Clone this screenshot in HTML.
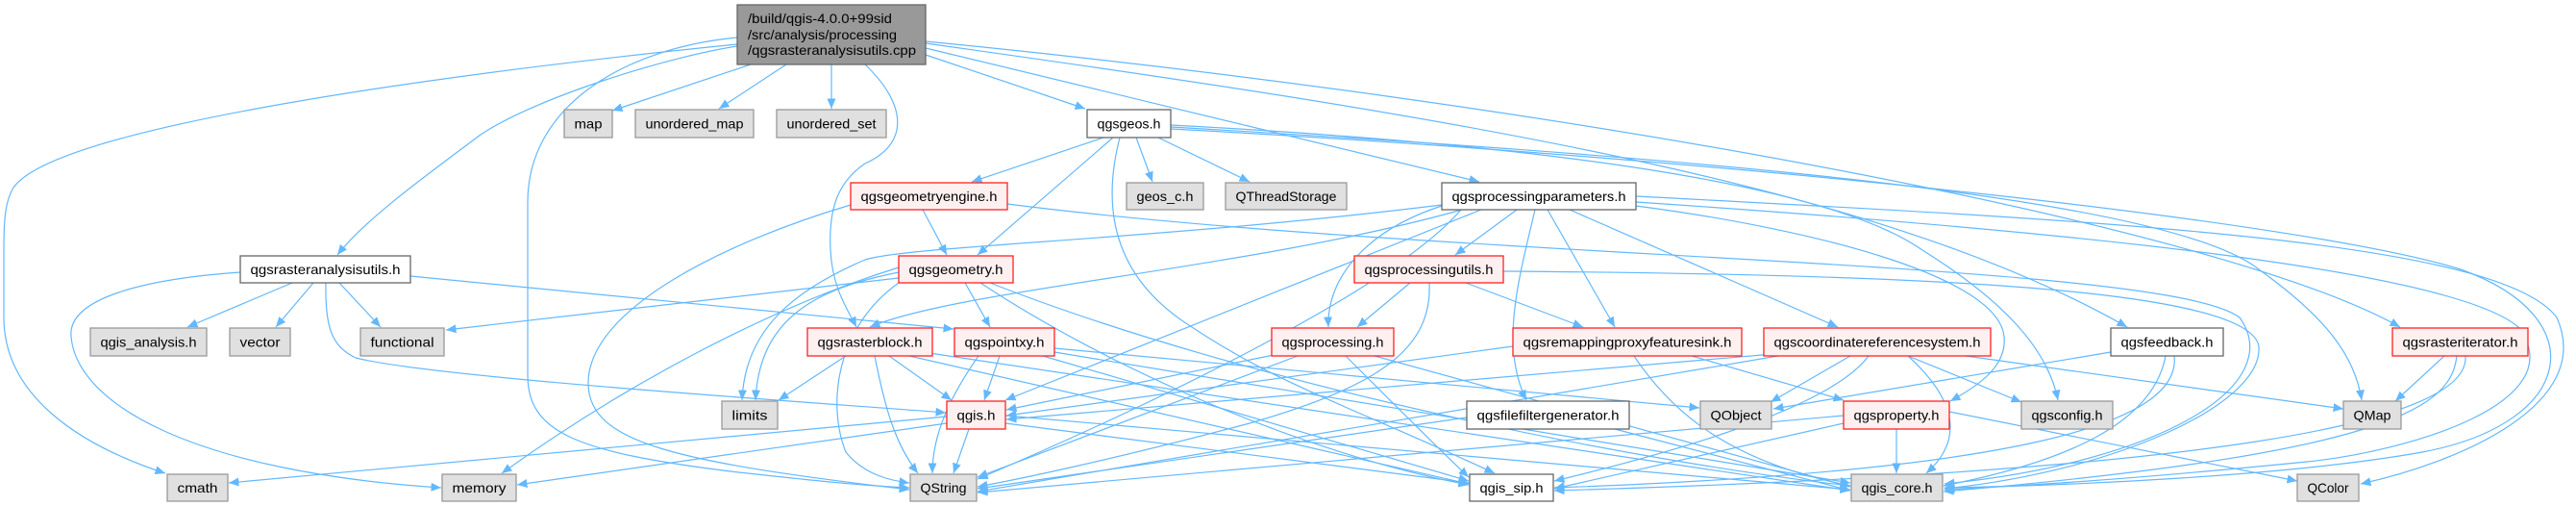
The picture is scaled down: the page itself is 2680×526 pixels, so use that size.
<!DOCTYPE html>
<html><head><meta charset="utf-8"><style>
html,body{margin:0;padding:0;background:#fff;}
svg{display:block;}
text{font-family:"Liberation Sans",sans-serif;font-size:14px;fill:#000;}
.e{fill:none;stroke:#63b8ff;stroke-width:1.2;marker-end:url(#a);}
.g{fill:#e0e0e0;stroke:#999;stroke-width:1.3;}
.w{fill:#fff;stroke:#666;stroke-width:1.3;}
.r{fill:#fff0f0;stroke:#f22;stroke-width:1.3;}
.m{fill:#999;stroke:#666;stroke-width:1.3;}
</style></head><body>
<svg width="2680" height="526" viewBox="0 0 2680 526" xmlns="http://www.w3.org/2000/svg">
<defs><marker id="a" markerWidth="12" markerHeight="10" refX="10.5" refY="4.5" orient="auto" markerUnits="userSpaceOnUse"><path d="M0,0 L10.5,4.5 L0,9 z" fill="#63b8ff"/></marker></defs>
<g>
<path class="e" d="M781,67 L637,115"/>
<path class="e" d="M818,67 L748,113"/>
<path class="e" d="M865,67 L865,113"/>
<path class="e" d="M963,57 L1129,113"/>
<path class="e" d="M767,48 C700,58 560,100 500,140 C440,185 380,228 351,265"/>
<path class="e" d="M767,46 C480,75 60,130 14,195 C5,210 4,230 4,260 L4,330 C4,410 80,462 172,492"/>
<path class="e" d="M767,39 C650,50 549,110 549,210 L549,390 C549,450 600,470 760,490 C850,500 900,505 946,507"/>
<path class="e" d="M900,67 C945,110 945,150 900,170 C870,190 862,220 864,260 C866,300 882,322 891,340"/>
<path class="e" d="M963,50 L1539,189"/>
<path class="e" d="M963,45 C1500,120 1950,190 2213,340"/>
<path class="e" d="M963,43 C1600,105 2300,230 2497,340"/>

<path class="e" d="M304,294 L195,340"/>
<path class="e" d="M326,294 L287,340"/>
<path class="e" d="M353,294 L396,340"/>
<path class="e" d="M250,283 C150,290 70,310 74,350 C80,420 200,490 459,507"/>
<path class="e" d="M339,294 C338,340 345,360 370,372 C450,392 800,415 984,429"/>
<path class="e" d="M427,287 L992,342"/>

<path class="e" d="M1148,143 L1011,189"/>
<path class="e" d="M1158,143 L1017,265"/>
<path class="e" d="M1182,143 L1199,189"/>
<path class="e" d="M1205,143 L1300,189"/>
<path class="e" d="M1165,143 C1145,220 1160,290 1240,340 C1330,400 1400,420 1555,492"/>
<path class="e" d="M1218,130 C1600,150 1900,190 2000,260 C2080,310 2130,360 2141,416"/>
<path class="e" d="M1218,132 C1700,160 2250,200 2350,280 C2420,330 2450,370 2457,416"/>
<path class="e" d="M1218,134 C1800,165 2400,230 2560,280 C2700,330 2680,440 2520,470 C2380,495 2150,505 2023,507"/>

<path class="e" d="M960,218 L985,265"/>
<path class="e" d="M885,213 C760,250 610,320 612,400 C614,460 700,480 946,509"/>
<path class="e" d="M1048,212 C1500,270 2250,270 2330,330 C2380,400 2250,480 2023,503"/>

<path class="e" d="M1578,218 L1514,265"/>
<path class="e" d="M1500,214 C1420,240 1380,290 1382,340"/>
<path class="e" d="M1610,218 L1680,340"/>
<path class="e" d="M1597,218 C1580,290 1560,360 1588,416"/>
<path class="e" d="M1633,218 L1912,340"/>
<path class="e" d="M1541,218 L1046,416"/>
<path class="e" d="M1521,218 C1300,280 1000,300 905,340"/>
<path class="e" d="M1500,213 C1200,250 950,255 900,270 C830,300 775,340 772,416"/>
<path class="e" d="M1702,204 C2200,230 2600,250 2660,330 C2700,420 2560,480 2456,503"/>
<path class="e" d="M1702,210 C2150,240 2550,280 2620,340 C2680,420 2500,470 2400,480 C2200,500 2100,505 2023,509"/>
<path class="e" d="M1702,214 C1900,240 2080,290 2085,350 C2088,380 2060,400 2029,417"/>
<path class="e" d="M1520,218 C1450,300 1200,420 1017,498"/>

<path class="e" d="M1467,294 L1412,340"/>
<path class="e" d="M1525,294 L1647,340"/>
<path class="e" d="M1487,294 C1490,360 1440,400 1300,440 C1150,480 1050,500 1017,506"/>
<path class="e" d="M1564,282 C2000,285 2340,300 2350,360 C2355,420 2200,490 2023,508"/>

<path class="e" d="M1004,294 L1030,340"/>
<path class="e" d="M935,289 L464,343"/>
<path class="e" d="M935,283 C850,300 790,330 786,416"/>
<path class="e" d="M935,278 C800,320 650,400 522,492"/>
<path class="e" d="M935,294 C870,340 860,420 880,470 C900,495 930,500 946,502"/>
<path class="e" d="M1020,294 C1150,380 1350,470 1528,504"/>
<path class="e" d="M1030,294 C1300,400 1700,480 1925,505"/>

<path class="e" d="M880,370 L810,416"/>
<path class="e" d="M925,370 L990,416"/>
<path class="e" d="M910,370 C920,420 930,460 955,492"/>
<path class="e" d="M946,370 L1528,503"/>
<path class="e" d="M960,366 L1925,510"/>

<path class="e" d="M1040,370 L1024,416"/>
<path class="e" d="M1018,370 C990,410 970,450 970,492"/>
<path class="e" d="M1097,362 L1768,424"/>
<path class="e" d="M1097,366 L1925,502"/>
<path class="e" d="M1085,370 L1528,500"/>

<path class="e" d="M985,433 L238,502"/>
<path class="e" d="M985,440 L538,504"/>
<path class="e" d="M1008,446 L992,492"/>
<path class="e" d="M1046,440 L1528,502"/>
<path class="e" d="M1046,432 L1925,509"/>

<path class="e" d="M1350,370 L1017,496"/>
<path class="e" d="M1330,368 L1047,426"/>
<path class="e" d="M1400,370 C1450,420 1500,470 1528,496"/>
<path class="e" d="M1430,370 L1925,506"/>

<path class="e" d="M1574,360 L1047,432"/>
<path class="e" d="M1760,370 L1918,416"/>
<path class="e" d="M1700,370 C1740,430 1800,480 1925,505"/>

<path class="e" d="M1925,370 L1842,418"/>
<path class="e" d="M1985,370 L2103,418"/>
<path class="e" d="M2045,370 L2438,425"/>
<path class="e" d="M1985,370 C2040,420 2040,460 2004,492"/>
<path class="e" d="M1845,368 L1047,436"/>
<path class="e" d="M1850,370 L1017,511"/>
<path class="e" d="M1944,370 C1900,430 1700,480 1617,500"/>

<path class="e" d="M2196,366 L1845,425"/>
<path class="e" d="M2253,370 C2240,440 2150,480 2022,505"/>
<path class="e" d="M2262,370 C2270,440 2100,490 1617,507"/>

<path class="e" d="M2543,370 L2492,417"/>
<path class="e" d="M2556,370 C2550,420 2500,470 2022,511"/>
<path class="e" d="M2565,370 C2570,440 2300,490 1617,510"/>

<path class="e" d="M1973,446 L1973,492"/>
<path class="e" d="M2028,428 L2390,500"/>
<path class="e" d="M1918,432 L1017,512"/>
<path class="e" d="M1918,440 L1617,508"/>

<path class="e" d="M1526,434 L1017,508"/>
<path class="e" d="M1680,446 L1925,510"/>
</g>

<g>
<rect class="m" x="767" y="5" width="196" height="62"/>
<text x="778" y="24" textLength="150" lengthAdjust="spacingAndGlyphs">/build/qgis-4.0.0+99sid</text>
<text x="778" y="41" textLength="155" lengthAdjust="spacingAndGlyphs">/src/analysis/processing</text>
<text x="778" y="57" textLength="175" lengthAdjust="spacingAndGlyphs">/qgsrasteranalysisutils.cpp</text>

<rect class="g" x="587" y="114" width="50" height="29"/><text x="612" y="133.5" text-anchor="middle" textLength="29" lengthAdjust="spacingAndGlyphs">map</text>
<rect class="g" x="661" y="114" width="123" height="29"/><text x="722.5" y="133.5" text-anchor="middle" textLength="102" lengthAdjust="spacingAndGlyphs">unordered_map</text>
<rect class="g" x="808" y="114" width="114" height="29"/><text x="865" y="133.5" text-anchor="middle" textLength="93" lengthAdjust="spacingAndGlyphs">unordered_set</text>
<rect class="w" x="1131" y="114" width="87" height="29"/><text x="1174.5" y="133.5" text-anchor="middle" textLength="66" lengthAdjust="spacingAndGlyphs">qgsgeos.h</text>

<rect class="r" x="885" y="190" width="163" height="28"/><text x="966.5" y="209" text-anchor="middle" textLength="142" lengthAdjust="spacingAndGlyphs">qgsgeometryengine.h</text>
<rect class="g" x="1172" y="190" width="80" height="28"/><text x="1212" y="209" text-anchor="middle" textLength="59" lengthAdjust="spacingAndGlyphs">geos_c.h</text>
<rect class="g" x="1275" y="190" width="126" height="28"/><text x="1338" y="209" text-anchor="middle" textLength="105" lengthAdjust="spacingAndGlyphs">QThreadStorage</text>
<rect class="w" x="1500" y="190" width="202" height="28"/><text x="1601" y="209" text-anchor="middle" textLength="181" lengthAdjust="spacingAndGlyphs">qgsprocessingparameters.h</text>

<rect class="w" x="250" y="266" width="177" height="28"/><text x="338.5" y="285" text-anchor="middle" textLength="156" lengthAdjust="spacingAndGlyphs">qgsrasteranalysisutils.h</text>
<rect class="r" x="935" y="266" width="119" height="28"/><text x="994.5" y="285" text-anchor="middle" textLength="98" lengthAdjust="spacingAndGlyphs">qgsgeometry.h</text>
<rect class="r" x="1409" y="266" width="155" height="28"/><text x="1486.5" y="285" text-anchor="middle" textLength="134" lengthAdjust="spacingAndGlyphs">qgsprocessingutils.h</text>

<rect class="g" x="94" y="341" width="121" height="29"/><text x="154.5" y="360.5" text-anchor="middle" textLength="100" lengthAdjust="spacingAndGlyphs">qgis_analysis.h</text>
<rect class="g" x="239" y="341" width="63" height="29"/><text x="270.5" y="360.5" text-anchor="middle" textLength="42" lengthAdjust="spacingAndGlyphs">vector</text>
<rect class="g" x="375" y="341" width="87" height="29"/><text x="418.5" y="360.5" text-anchor="middle" textLength="66" lengthAdjust="spacingAndGlyphs">functional</text>
<rect class="r" x="840" y="341" width="130" height="29"/><text x="905" y="360.5" text-anchor="middle" textLength="109" lengthAdjust="spacingAndGlyphs">qgsrasterblock.h</text>
<rect class="r" x="993" y="341" width="104" height="29"/><text x="1045" y="360.5" text-anchor="middle" textLength="83" lengthAdjust="spacingAndGlyphs">qgspointxy.h</text>
<rect class="r" x="1323" y="341" width="127" height="29"/><text x="1386.5" y="360.5" text-anchor="middle" textLength="106" lengthAdjust="spacingAndGlyphs">qgsprocessing.h</text>
<rect class="r" x="1574" y="341" width="238" height="29"/><text x="1693" y="360.5" text-anchor="middle" textLength="217" lengthAdjust="spacingAndGlyphs">qgsremappingproxyfeaturesink.h</text>
<rect class="r" x="1835" y="341" width="236" height="29"/><text x="1953" y="360.5" text-anchor="middle" textLength="215" lengthAdjust="spacingAndGlyphs">qgscoordinatereferencesystem.h</text>
<rect class="w" x="2196" y="341" width="117" height="29"/><text x="2254.5" y="360.5" text-anchor="middle" textLength="96" lengthAdjust="spacingAndGlyphs">qgsfeedback.h</text>
<rect class="r" x="2489" y="341" width="141" height="29"/><text x="2559.5" y="360.5" text-anchor="middle" textLength="120" lengthAdjust="spacingAndGlyphs">qgsrasteriterator.h</text>

<rect class="g" x="751" y="417" width="58" height="29"/><text x="780" y="436.5" text-anchor="middle" textLength="37" lengthAdjust="spacingAndGlyphs">limits</text>
<rect class="r" x="985" y="417" width="61" height="29"/><text x="1015.5" y="436.5" text-anchor="middle" textLength="40" lengthAdjust="spacingAndGlyphs">qgis.h</text>
<rect class="w" x="1526" y="417" width="169" height="29"/><text x="1610.5" y="436.5" text-anchor="middle" textLength="148" lengthAdjust="spacingAndGlyphs">qgsfilefiltergenerator.h</text>
<rect class="g" x="1769" y="417" width="74" height="29"/><text x="1806" y="436.5" text-anchor="middle" textLength="53" lengthAdjust="spacingAndGlyphs">QObject</text>
<rect class="r" x="1918" y="417" width="110" height="29"/><text x="1973" y="436.5" text-anchor="middle" textLength="89" lengthAdjust="spacingAndGlyphs">qgsproperty.h</text>
<rect class="g" x="2103" y="417" width="95" height="29"/><text x="2150.5" y="436.5" text-anchor="middle" textLength="74" lengthAdjust="spacingAndGlyphs">qgsconfig.h</text>
<rect class="g" x="2438" y="417" width="60" height="29"/><text x="2468" y="436.5" text-anchor="middle" textLength="39" lengthAdjust="spacingAndGlyphs">QMap</text>

<rect class="g" x="174" y="493" width="63" height="28"/><text x="205.5" y="512" text-anchor="middle" textLength="42" lengthAdjust="spacingAndGlyphs">cmath</text>
<rect class="g" x="460" y="493" width="77" height="28"/><text x="498.5" y="512" text-anchor="middle" textLength="56" lengthAdjust="spacingAndGlyphs">memory</text>
<rect class="g" x="947" y="493" width="69" height="28"/><text x="981.5" y="512" text-anchor="middle" textLength="48" lengthAdjust="spacingAndGlyphs">QString</text>
<rect class="w" x="1529" y="493" width="87" height="28"/><text x="1572.5" y="512" text-anchor="middle" textLength="66" lengthAdjust="spacingAndGlyphs">qgis_sip.h</text>
<rect class="g" x="1926" y="493" width="95" height="28"/><text x="1973.5" y="512" text-anchor="middle" textLength="74" lengthAdjust="spacingAndGlyphs">qgis_core.h</text>
<rect class="g" x="2390" y="493" width="64" height="28"/><text x="2422" y="512" text-anchor="middle" textLength="43" lengthAdjust="spacingAndGlyphs">QColor</text>
</g>
</svg>
</body></html>
